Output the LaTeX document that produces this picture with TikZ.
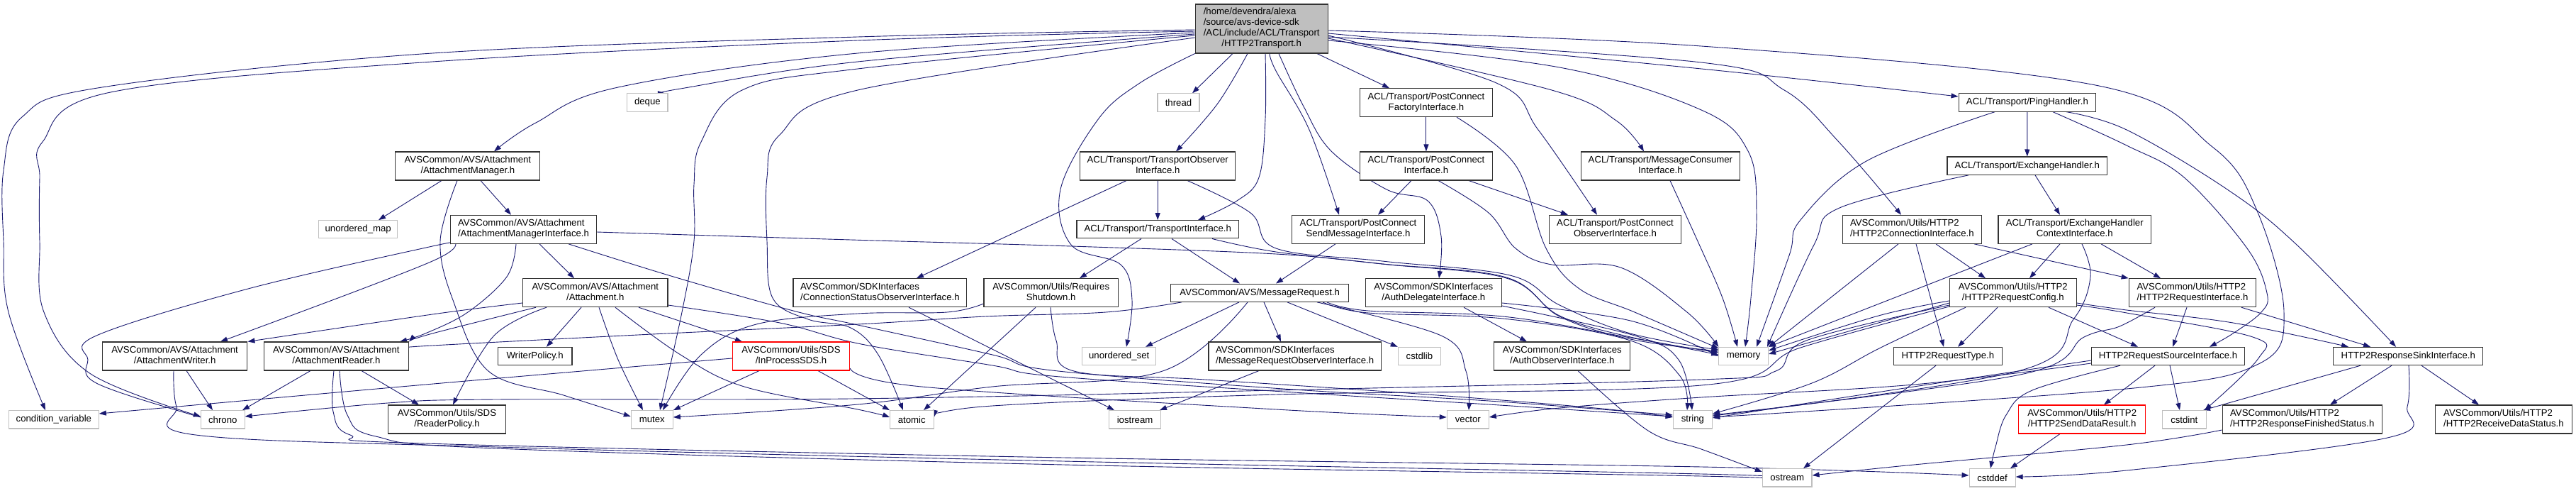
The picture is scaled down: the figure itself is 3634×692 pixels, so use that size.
\documentclass[tikz,border=0pt]{standalone}
\usepackage{fontspec}
\newfontfamily\dgfont{Liberation Sans}
\usetikzlibrary{arrows.meta}
\definecolor{eblue}{HTML}{191970}
\definecolor{docc}{HTML}{333333}
\definecolor{extc}{HTML}{BFBFBF}
\definecolor{undc}{HTML}{FF0000}
\definecolor{rootc}{HTML}{BFBFBF}
\pgfdeclarelayer{bgw}
\pgfdeclarelayer{bge}
\pgfsetlayers{bgw,bge,main}
\newcommand{\nf}{\dgfont\fontsize{13.2}{15}\selectfont}
\newcommand{\twol}[2]{\begin{tabular}{@{}l@{}}#1\\\multicolumn{1}{@{}c@{}}{#2}\end{tabular}}
\newcommand{\edgp}[1]{\draw[edg] plot[smooth,tension=0.6] coordinates {#1};}
\begin{document}
\begin{tikzpicture}[x=1pt,y=-1pt,
 doc/.style={draw=docc,line width=1.1pt,fill=white,inner sep=0pt,font=\nf,text=black},
 ext/.style={doc,draw=extc},
 und/.style={doc,draw=undc},
 sz/.style 2 args={minimum width=#1pt,minimum height=#2pt},
 edg/.style={draw=eblue,line width=0.9pt,-{Triangle[length=10pt,width=7pt]}},
]
\begin{pgfonlayer}{bgw}
\fill[white] (0,0) rectangle (3634,692);
\end{pgfonlayer}
\useasboundingbox (0,0) rectangle (3634,692);

% ---------- nodes ----------
\node[doc,fill=rootc,sz={187}{69}] (R) at (1779.7,40.5) {\twol{/home/devendra/alexa\\/source/avs-device-sdk\\/ACL/include/ACL/Transport}{/HTTP2Transport.h}};
\node[ext,sz={57.2}{25.3}] (deque) at (913.4,144.5) {deque};
\node[ext,sz={59}{25.3}] (thread) at (1662.5,144.5) {thread};
\node[doc,sz={187}{40}] (PCF) at (2011.9,144.7) {\twol{ACL/Transport/PostConnect}{FactoryInterface.h}};
\node[doc,sz={193.7}{25.3}] (PH) at (2859.9,144.5) {ACL/Transport/PingHandler.h};
\node[doc,sz={204}{40}] (AM) at (659.9,234) {\twol{AVSCommon/AVS/Attachment}{/AttachmentManager.h}};
\node[doc,sz={219}{40}] (TOI) at (1633.2,234) {\twol{ACL/Transport/TransportObserver}{Interface.h}};
\node[doc,sz={187}{40}] (PCI) at (2011.9,234) {\twol{ACL/Transport/PostConnect}{Interface.h}};
\node[doc,sz={224}{40}] (MCI) at (2342.4,234) {\twol{ACL/Transport/MessageConsumer}{Interface.h}};
\node[doc,sz={225.6}{25.3}] (EH) at (2859.8,233.7) {ACL/Transport/ExchangeHandler.h};
\node[ext,sz={110.9}{25.3}] (umap) at (505.2,323.3) {unordered\_map};
\node[doc,sz={205.4}{40}] (AMI) at (738.5,323.3) {\twol{AVSCommon/AVS/Attachment}{/AttachmentManagerInterface.h}};
\node[doc,sz={228.4}{25.3}] (TI) at (1633.2,323.3) {ACL/Transport/TransportInterface.h};
\node[doc,sz={186.7}{40}] (PCS) at (1916,323.3) {\twol{ACL/Transport/PostConnect}{SendMessageInterface.h}};
\node[doc,sz={186.7}{40}] (PCO) at (2278.5,323.3) {\twol{ACL/Transport/PostConnect}{ObserverInterface.h}};
\node[doc,sz={196}{40}] (HCI) at (2697.3,323.3) {\twol{AVSCommon/Utils/HTTP2}{/HTTP2ConnectionInterface.h}};
\node[doc,sz={215.4}{40}] (EHCI) at (2926.7,323.3) {\twol{ACL/Transport/ExchangeHandler}{ContextInterface.h}};
\node[doc,sz={204.3}{40}] (A) at (839.8,412.7) {\twol{AVSCommon/AVS/Attachment}{/Attachment.h}};
\node[doc,sz={244.8}{40}] (CSO) at (1241.4,412.7) {\twol{AVSCommon/SDKInterfaces}{/ConnectionStatusObserverInterface.h}};
\node[doc,sz={189.5}{40}] (RS) at (1482.7,412.7) {\twol{AVSCommon/Utils/Requires}{Shutdown.h}};
\node[doc,sz={251}{25.3}] (MR) at (1777.2,412.7) {AVSCommon/AVS/MessageRequest.h};
\node[doc,sz={191.8}{40}] (ADI) at (2022.3,412.7) {\twol{AVSCommon/SDKInterfaces}{/AuthDelegateInterface.h}};
\node[doc,sz={178.6}{40}] (HRC) at (2839.8,412.7) {\twol{AVSCommon/Utils/HTTP2}{/HTTP2RequestConfig.h}};
\node[doc,sz={179.6}{40}] (HRI) at (3093,412.7) {\twol{AVSCommon/Utils/HTTP2}{/HTTP2RequestInterface.h}};
\node[doc,sz={204.6}{40}] (AW) at (246.6,502) {\twol{AVSCommon/AVS/Attachment}{/AttachmentWriter.h}};
\node[doc,sz={204.2}{40}] (AR) at (474.4,502) {\twol{AVSCommon/AVS/Attachment}{/AttachmentReader.h}};
\node[doc,sz={104.7}{25.3}] (WP) at (754.6,502) {WriterPolicy.h};
\node[und,sz={165.3}{40}] (IPS) at (1116,502) {\twol{AVSCommon/Utils/SDS}{/InProcessSDS.h}};
\node[ext,sz={104}{25.3}] (uset) at (1578.7,502) {unordered\_set};
\node[doc,sz={243.2}{40}] (MRO) at (1826.6,502) {\twol{AVSCommon/SDKInterfaces}{/MessageRequestObserverInterface.h}};
\node[ext,sz={60.3}{25.3}] (cstdlib) at (2002.4,502) {cstdlib};
\node[doc,sz={192.2}{40}] (AO) at (2203.8,502) {\twol{AVSCommon/SDKInterfaces}{/AuthObserverInterface.h}};
\node[ext,sz={69.6}{25.3}] (memory) at (2459.7,502) {memory};
\node[doc,sz={153.3}{25.3}] (HRT) at (2747.8,502) {HTTP2RequestType.h};
\node[doc,sz={216}{25.3}] (HRS) at (3058.5,502) {HTTP2RequestSourceInterface.h};
\node[doc,sz={210.7}{25.3}] (HRK) at (3397.2,502) {HTTP2ResponseSinkInterface.h};
\node[ext,sz={126.8}{25.3}] (cv) at (75.9,591.3) {condition\_variable};
\node[ext,sz={61.5}{25.3}] (chrono) at (314.3,591.3) {chrono};
\node[doc,sz={165.4}{40}] (RP) at (630.5,591) {\twol{AVSCommon/Utils/SDS}{/ReaderPolicy.h}};
\node[ext,sz={59}{25.3}] (mutex) at (919.8,591.3) {mutex};
\node[ext,sz={61.5}{25.3}] (atomic) at (1286.3,591.3) {atomic};
\node[ext,sz={72.4}{25.3}] (iostream) at (1601.1,591.3) {iostream};
\node[ext,sz={59.1}{25.3}] (vector) at (2070.8,591.3) {vector};
\node[ext,sz={55.4}{25.3}] (string) at (2387.9,591.3) {string};
\node[und,sz={178.9}{40}] (SDR) at (2937.2,591) {\twol{AVSCommon/Utils/HTTP2}{/HTTP2SendDataResult.h}};
\node[ext,sz={61.5}{25.3}] (cstdint) at (3081.3,591.3) {cstdint};
\node[doc,sz={225.3}{40}] (RFS) at (3247.7,591) {\twol{AVSCommon/Utils/HTTP2}{/HTTP2ResponseFinishedStatus.h}};
\node[doc,sz={193.6}{40}] (RDS) at (3531.9,591) {\twol{AVSCommon/Utils/HTTP2}{/HTTP2ReceiveDataStatus.h}};
\node[ext,sz={69.6}{25.3}] (ostream) at (2521.2,673.3) {ostream};
\node[ext,sz={65}{25.3}] (cstddef) at (2810.6,673.3) {cstddef};

% ---------- edges ----------
\begin{pgfonlayer}{bge}
% root
\edgp{(R.west |- 0,42) (1210,52) (610,75) (144,123) (31,165) (5,240) (5,340) (12,440) (cv.north -| 64,0)}
\edgp{(R.west |- 0,44) (1210,57) (610,87) (156,130) (60,200) (56,250) (56,340) (62,440) (128,527) (chrono.west |- 0,587)}
\edgp{(R.west |- 0,46) (1210,75) (872,123) (756,173) (AM.north -| 697,0)}
\edgp{(R.west |- 0,48) (1210,87) (960,125) (deque.north -| 938,0)}
\edgp{(R.west |- 0,50) (1210,97) (1047,127) (989,200) (979,260) (979,340) (962,440) (mutex.north -| 931,0)}
\edgp{(R.west |- 0,53) (1210,127) (1100,190) (1082,250) (1082,340) (1090,420) (1140,450) (1200,462) (1239,500) (atomic.north -| 1274,0)}
\edgp{(R.south west) (1608,117) (1550,167) (1496,267) (1511,345) (1581,373) (1597,423) (uset.north -| 1589,0)}
\edgp{(R.south -| 1739,0) (thread.north -| 1682,0)}
\edgp{(R.south -| 1760,0) (1717,147) (TOI.north -| 1659,0)}
\edgp{(R.south -| 1785,0) (1785,167) (1776,250) (1745,283) (TI.north -| 1690,0)}
\edgp{(R.south -| 1791,0) (1800,100) (1847,183) (PCS.north -| 1889,0)}
\edgp{(R.south -| 1804,0) (1839,150) (1878,213) (1956,267) (2014,283) (2033,333) (ADI.north -| 2030,0)}
\edgp{(R.south -| 1858,0) (PCF.north -| 1960,0)}
\edgp{(R.east |- 0,50) (2111,117) (2170,183) (PCO.north -| 2253,0)}
\edgp{(R.east |- 0,54) (2189,127) (2280,170) (MCI.north -| 2319,0)}
\edgp{(R.east |- 0,47) (2400,97) (PH.west |- 0,136)}
\edgp{(R.east |- 0,52) (2400,88) (2517,127) (2594,200) (HCI.north -| 2682,0)}
\edgp{(R.east |- 0,57) (2200,95) (2400,155) (2466,213) (2478,300) (2470,420) (memory.north -| 2462,0)}
\edgp{(R.east |- 0,43) (2400,65) (2956,120) (3121,207) (3184,297) (3222,440) (3186,513) (3000,548) (string.east |- 0,588)}
% TOI / TI
\edgp{(TOI.south) (TI.north)}
\edgp{(TOI.south -| 1589,0) (CSO.north -| 1293,0)}
\edgp{(TOI.south -| 1675,0) (1764,300) (1800,350) (1950,368) (2130,388) (2200,430) (2300,470) (memory.west |- 0,493)}
\edgp{(TI.south -| 1610,0) (RS.north -| 1523,0)}
\edgp{(TI.south -| 1653,0) (MR.north -| 1749,0)}
\edgp{(TI.south -| 1710,0) (1800,355) (1950,372) (2125,392) (2200,445) (2300,475) (memory.west |- 0,497)}
\edgp{(CSO.south -| 1282,0) (iostream.north -| 1572,0)}
% RS
\edgp{(RS.south -| 1461,0) (atomic.north -| 1303,0)}
\edgp{(RS.west |- 0,428) (1336,440) (1210,442) (1067,457) (989,500) (mutex.north -| 935,0)}
\edgp{(RS.south -| 1482,0) (1490,480) (1515,523) (1700,535) (2000,555) (2250,575) (string.west |- 0,588)}
% MR
\edgp{(MR.south -| 1667,0) (1560,440) (1390,446) (1210,457) (900,472) (610,487) (AR.east |- 0,490)}
\edgp{(MR.south -| 1748,0) (uset.north -| 1616,0)}
\edgp{(MR.south -| 1760,0) (1640,523) (1400,545) (1210,570) (mutex.east |- 0,588)}
\edgp{(MR.south -| 1783,0) (MRO.north -| 1807,0)}
\edgp{(MR.south -| 1816,0) (cstdlib.north west)}
\edgp{(MR.south -| 1858,0) (2033,473) (2068,523) (vector.north -| 2072,0)}
\edgp{(MR.south -| 1866,0) (1930,441) (2120,449) (2300,480) (2370,530) (string.north -| 2380,0)}
\edgp{(MR.south -| 1872,0) (1930,438) (2120,446) (2300,476) (memory.west |- 0,500)}
\edgp{(MRO.south -| 1776,0) (iostream.north -| 1636,0)}
% PostConnect
\edgp{(PCF.south) (PCI.north)}
\edgp{(PCF.south -| 2055,0) (2138,233) (2181,350) (2228,407) (2306,440) (memory.west |- 0,491)}
\edgp{(PCI.south -| 1991,0) (PCS.north -| 1944,0)}
\edgp{(PCI.south -| 2072,0) (PCO.north -| 2212,0)}
\edgp{(PCI.south -| 2029,0) (2100,300) (2138,350) (2189,373) (2286,377) (2380,440) (memory.west |- 0,489)}
\edgp{(PCS.south -| 1884,0) (MR.north -| 1800,0)}
\edgp{(MCI.south -| 2356,0) (2395,340) (2430,420) (memory.north -| 2451,0)}
% ADI / AO
\edgp{(ADI.south -| 2065,0) (AO.north -| 2154,0)}
\edgp{(ADI.east |- 0,427) (2300,452) (memory.west |- 0,502)}
\edgp{(ADI.east |- 0,431) (2306,473) (2368,507) (string.north -| 2387,0)}
\edgp{(AO.south -| 2226,0) (2325,607) (2400,633) (ostream.west |- 0,665)}
% PH / EH
\edgp{(PH.south) (EH.north)}
\edgp{(PH.south -| 2814,0) (2633,227) (2540,310) (2524,360) (memory.north -| 2478,0)}
\edgp{(PH.south -| 2896,0) (3000,205) (3081,250) (3170,350) (3198,413) (3190,440) (3150,470) (HRS.north -| 3117,0)}
\edgp{(PH.south -| 2915,0) (3000,183) (3142,267) (3240,345) (HRK.north -| 3380,0)}
\edgp{(EH.south -| 2871,0) (EHCI.north -| 2906,0)}
\edgp{(EH.south -| 2777,0) (2595,293) (2559,345) (memory.north -| 2493,0)}
% HCI
\edgp{(HCI.south -| 2678,0) (memory.north east)}
\edgp{(HCI.south -| 2703,0) (HRT.north -| 2742,0)}
\edgp{(HCI.south -| 2731,0) (HRC.north -| 2801,0)}
\edgp{(HCI.south -| 2785,0) (HRI.north west)}
% EHCI
\edgp{(EHCI.south -| 2867,0) (memory.north east)}
\edgp{(EHCI.south -| 2906,0) (HRC.north -| 2863,0)}
\edgp{(EHCI.south -| 2937,0) (2949,390) (2925,450) (2847,523) (string.east |- 0,586)}
\edgp{(EHCI.south -| 2964,0) (HRI.north -| 3048,0)}
% HRC
\edgp{(HRC.south -| 2818,0) (HRT.north -| 2762,0)}
\edgp{(HRC.west |- 0,424) (2650,445) (memory.east |- 0,494)}
\edgp{(HRC.west |- 0,427) (2650,455) (memory.east |- 0,499)}
\edgp{(HRC.west |- 0,430) (2548,480) (2505,523) (2400,535) (1800,550) (1200,562) (700,563) (547,568) (chrono.east |- 0,587)}
\edgp{(HRC.west |- 0,432) (2540,490) (2400,543) (1800,556) (1400,572) (atomic.east |- 0,588)}
\edgp{(HRC.south -| 2773,0) (2653,490) (2556,540) (string.east |- 0,583)}
\edgp{(HRC.south -| 2890,0) (HRS.north -| 3016,0)}
\edgp{(HRC.east |- 0,427) (3000,437) (3150,455) (HRK.north -| 3313,0)}
\edgp{(HRC.east |- 0,430) (3000,441) (3178,475) (3186,505) (cstdint.north -| 3110,0)}
% HRI
\edgp{(HRI.south -| 3085,0) (HRS.north -| 3065,0)}
\edgp{(HRI.south -| 3162,0) (HRK.north -| 3344,0)}
\edgp{(HRI.south -| 3040,0) (2990,460) (2940,475) (2850,528) (string.east |- 0,585)}
% HRS
\edgp{(HRS.south -| 3040,0) (SDR.north -| 2968,0)}
\edgp{(HRS.south -| 3061,0) (cstdint.north -| 3075,0)}
\edgp{(HRS.west |- 0,508) (2700,545) (string.east |- 0,589)}
\edgp{(HRS.west |- 0,512) (2700,542) (2400,560) (2200,575) (vector.east |- 0,588)}
\edgp{(HRS.south -| 2991,0) (2867,550) (2830,585) (2815,630) (cstddef.north -| 2808,0)}
% HRK
\edgp{(HRK.south -| 3374,0) (RFS.north -| 3287,0)}
\edgp{(HRK.south -| 3416,0) (RDS.north -| 3497,0)}
\edgp{(HRK.south -| 3330,0) (cstdint.north -| 3108,0)}
\edgp{(HRK.south -| 3398,0) (3396,573) (3368,617) (3000,663) (cstddef.east |- 0,672)}
\edgp{(RFS.west |- 0,606) (3000,627) (2700,655) (ostream.east |- 0,670)}
\edgp{(SDR.south -| 2906,0) (cstddef.north -| 2836,0)}
\edgp{(HRT.south -| 2731,0) (ostream.north -| 2544,0)}
% AM / AMI
\edgp{(AM.south -| 623,0) (umap.north -| 534,0)}
\edgp{(AM.south -| 678,0) (AMI.north -| 721,0)}
\edgp{(AM.south -| 645,0) (621,340) (639,423) (689,523) (795,557) (mutex.west |- 0,587)}
\edgp{(AMI.south -| 761,0) (A.north -| 810,0)}
\edgp{(AMI.west |- 0,338) (610,368) (AW.north -| 311,0)}
\edgp{(AMI.south west) (610,347) (350,407) (136,473) (124,507) (136,540) (272,585) (chrono.west |- 0,585)}
\edgp{(AMI.south -| 728,0) (715,390) (660,440) (600,470) (AR.north -| 564,0)}
\edgp{(AMI.east |- 0,327) (1200,338) (1511,347) (1800,358) (1950,372) (2125,391) (2200,446) (2300,478) (memory.west |- 0,495)}
\edgp{(AMI.south -| 802,0) (950,390) (1119,438) (1210,458) (1400,500) (1484,522) (1810,548) (2100,565) (string.west |- 0,585)}
% A
\edgp{(A.west |- 0,427) (610,443) (AW.north east)}
\edgp{(A.south -| 756,0) (610,470) (AR.north east)}
\edgp{(A.south -| 771,0) (697,473) (RP.north -| 639,0)}
\edgp{(A.south -| 820,0) (WP.north -| 771,0)}
\edgp{(A.south -| 845,0) (872,507) (mutex.north -| 907,0)}
\edgp{(A.south -| 868,0) (960,500) (1050,545) (1210,577) (atomic.west |- 0,588)}
\edgp{(A.south -| 901,0) (IPS.north -| 1047,0)}
\edgp{(A.east |- 0,430) (1100,455) (1215,485) (1400,515) (1484,530) (1810,552) (2100,570) (string.west |- 0,587)}
% IPS
\edgp{(IPS.west |- 0,505) (600,542) (cv.east |- 0,583)}
\edgp{(IPS.south -| 1071,0) (mutex.north east)}
\edgp{(IPS.south -| 1154,0) (atomic.north west)}
\edgp{(IPS.east |- 0,519) (1300,545) (1800,577) (vector.west |- 0,588)}
% AW / AR
\edgp{(AW.south -| 263,0) (chrono.north -| 300,0)}
\edgp{(AW.south -| 245,0) (249,573) (276,613) (700,630) (1500,650) (2400,668) (ostream.west |- 0,673)}
\edgp{(AR.south -| 438,0) (chrono.north -| 342,0)}
\edgp{(AR.south -| 510,0) (RP.north -| 591,0)}
\edgp{(AR.south -| 471,0) (470,580) (494,613) (600,625) (1500,645) (2400,658) (cstddef.west |- 0,670)}
\edgp{(AR.south -| 479,0) (490,585) (530,615) (700,632) (1500,655) (2400,671) (ostream.west |- 0,676)}
\end{pgfonlayer}
\end{tikzpicture}
\end{document}
